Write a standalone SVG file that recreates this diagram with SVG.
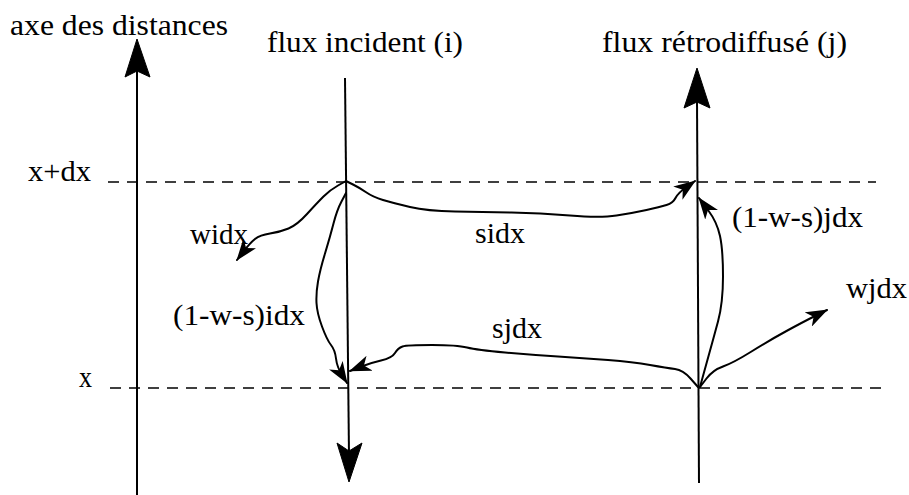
<svg xmlns="http://www.w3.org/2000/svg" width="909" height="495" viewBox="0 0 909 495">
<style>
text{font-family:"Liberation Serif","Times New Roman",serif;font-size:29px;fill:#000}
.axis{stroke:#000;stroke-width:2;fill:none}
.dash{stroke:#000;stroke-width:1.7;stroke-dasharray:11 8;fill:none}
.flow{stroke:#000;stroke-width:2;fill:none;stroke-linejoin:round;stroke-linecap:round}
.head{fill:#000;stroke:#000;stroke-width:1}
</style>
<defs>
<marker id="ah" viewBox="0 0 22 16" refX="21" refY="8" markerWidth="22" markerHeight="16" markerUnits="userSpaceOnUse" orient="auto">
<path d="M0,0 L22,8 L0,16 L6,8 Z" fill="#000"/>
</marker>
</defs>

<g id="levels">
<line class="dash" x1="108" y1="182" x2="876" y2="182"/>
<line class="dash" x1="110" y1="388" x2="884" y2="388"/>
<text x="28" y="181" textLength="63" lengthAdjust="spacingAndGlyphs">x+dx</text>
<text x="79" y="387" textLength="13" lengthAdjust="spacingAndGlyphs">x</text>
</g>

<g id="axe-distances">
<line class="axis" x1="137" y1="495" x2="137" y2="70"/>
<path class="head" d="M137,39 L150,77 L137,71 L125,77 Z"/>
<text x="10" y="35" textLength="218" lengthAdjust="spacingAndGlyphs">axe des distances</text>
</g>

<g id="flux-incident">
<line class="axis" x1="345" y1="78" x2="349" y2="455"/>
<path class="head" d="M349,482 L337,443 L349,451 L362,443 Z"/>
<text x="267" y="52" textLength="196" lengthAdjust="spacingAndGlyphs">flux incident (i)</text>
</g>

<g id="flux-retro">
<line class="axis" x1="697" y1="100" x2="699" y2="483"/>
<path class="head" d="M697,68 L710,108 L697,102 L684,108 Z"/>
<text x="602" y="52" textLength="245" lengthAdjust="spacingAndGlyphs">flux rétrodiffusé (j)</text>
</g>

<g id="connectors">
<path class="flow" marker-end="url(#ah)" d="M346,181 L353,184.5 Q360,188 366.5,192.5 Q373,197 383,200 Q393,203 410,207 Q427,211 455,211.5 Q483,212 511.5,212.5 Q540,213 570,215.5 Q600,218 616.5,215.5 Q633,213 646.5,210 Q660,207 666.5,205 Q673,203 675.5,198 Q678,193 686.5,187 L695,181"/>
<path class="flow" marker-end="url(#ah)" d="M346,181 L338,185.5 Q330,190 323.5,196.5 Q317,203 307,214 Q297,225 288.5,228.5 Q280,232 270,233.5 Q260,235 255,239 Q250,243 243.5,251.5 L237,260"/>
<path class="flow" marker-end="url(#ah)" d="M346,193 L341.5,201.5 Q337,210 333.5,223.5 Q330,237 325,253.5 Q320,270 318,281.5 Q316,293 316.5,303 Q317,313 322,326.5 Q327,340 331,345 Q335,350 336,358.5 Q337,367 342,375 L347,383"/>
<path class="flow" marker-end="url(#ah)" d="M698,387 L690.5,378.5 Q683,370 675,369 Q667,368 650,365 Q633,362 608,360 Q583,358 558,356.5 Q533,355 505,352.5 Q477,350 467,347.5 Q457,345 432,345 Q407,345 402.5,346.5 Q398,348 395,353 Q392,358 381,360.5 Q370,363 360,367 L350,371"/>
<path class="flow" marker-end="url(#ah)" d="M700,387 L703,376 Q706,365 709.5,352.5 Q713,340 718,321.5 Q723,303 723,276.5 Q723,250 720,236 Q717,222 708,210 L699,198"/>
<path class="flow" marker-end="url(#ah)" d="M700,387 L706.5,378.5 Q713,370 723,366.5 Q733,363 751.5,351.5 Q770,340 786.5,331 Q803,322 815,316 L827,310"/>
</g>

<g id="flow-labels">
<text x="190" y="244" textLength="58" lengthAdjust="spacingAndGlyphs">widx</text>
<text x="475" y="243" textLength="50" lengthAdjust="spacingAndGlyphs">sidx</text>
<text x="173" y="325" textLength="132" lengthAdjust="spacingAndGlyphs">(1-w-s)idx</text>
<text x="492" y="338" textLength="50" lengthAdjust="spacingAndGlyphs">sjdx</text>
<text x="732" y="227" textLength="131" lengthAdjust="spacingAndGlyphs">(1-w-s)jdx</text>
<text x="846" y="298" textLength="61" lengthAdjust="spacingAndGlyphs">wjdx</text>
</g>
</svg>
